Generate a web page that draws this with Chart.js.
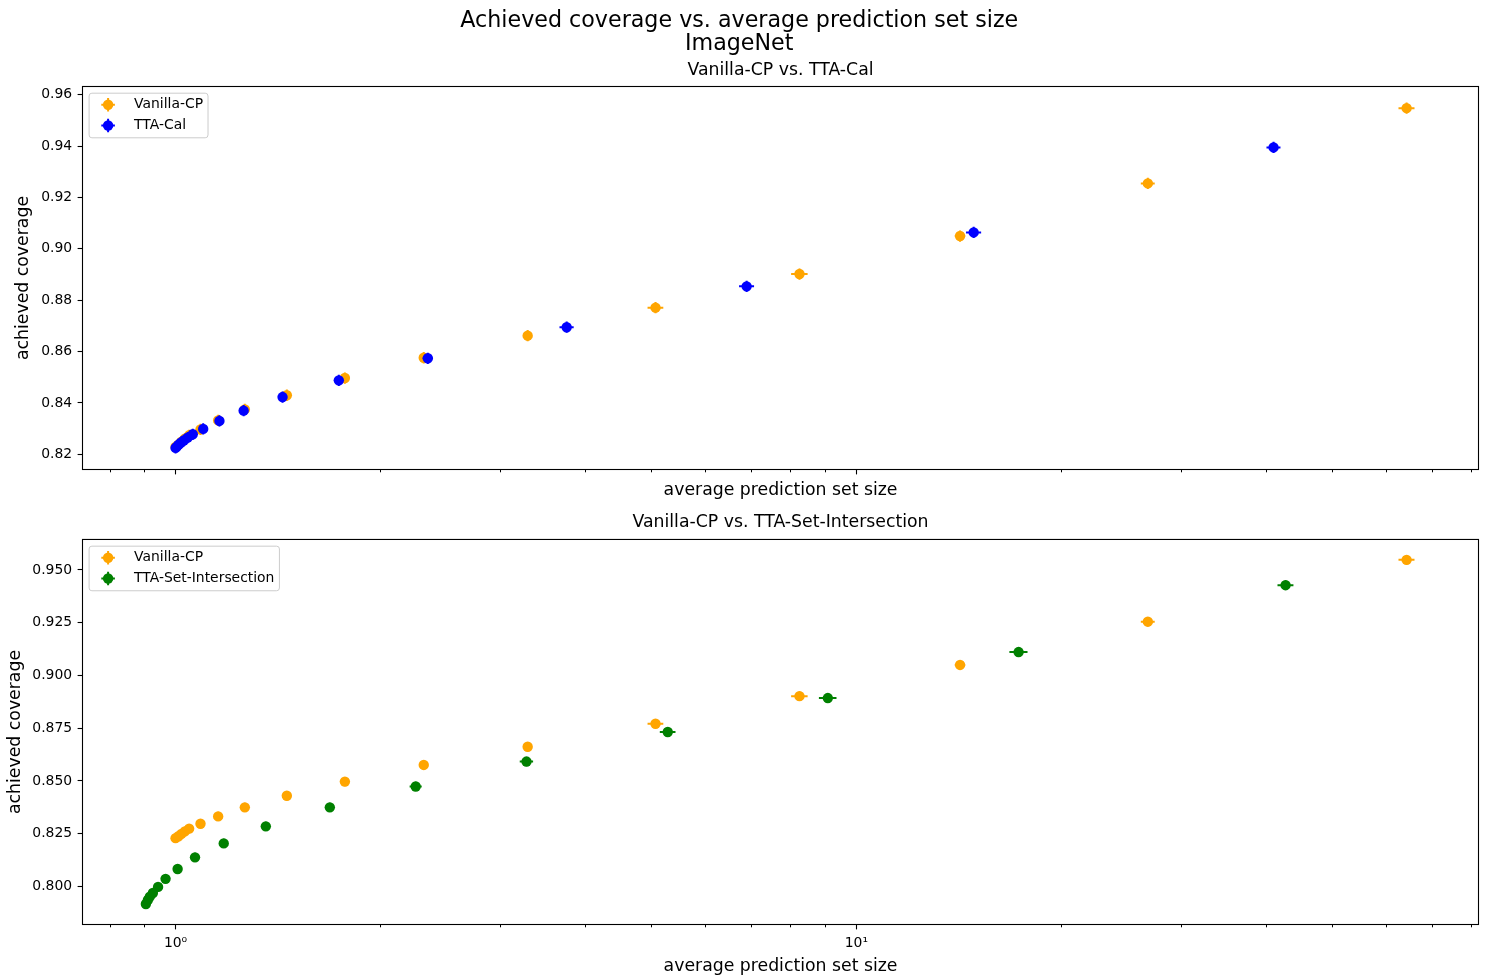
<!DOCTYPE html>
<html>
<head>
<meta charset="utf-8">
<title>Achieved coverage vs. average prediction set size</title>
<script src="https://cdn.jsdelivr.net/npm/chart.js@4.4.1/dist/chart.umd.min.js"></script>
<style>
  html, body { margin: 0; padding: 0; background: #fff; }
  #wrap { position: relative; width: 1489px; height: 978px; overflow: hidden; }
  canvas { position: absolute; left: 0; }
  #topChart { top: 0; }
  #bottomChart { top: 505px; }
</style>
</head>
<body>
<div id="wrap">
  <canvas id="topChart" width="1489" height="505"></canvas>
  <canvas id="bottomChart" width="1489" height="473"></canvas>
</div>
<script>
// ---- data: average prediction set size (x) and achieved coverage (y) ----
const vanillaSize    = [1.000, 1.010, 1.020, 1.032, 1.047, 1.088, 1.155, 1.264, 1.457, 1.773, 2.315, 3.29, 5.07, 8.25, 14.2, 26.8, 64.3];
const vanillaCov     = [0.8229, 0.8238, 0.8249, 0.8261, 0.8274, 0.8297, 0.8332, 0.8375, 0.8430, 0.8497, 0.8576, 0.8662, 0.8771, 0.8902, 0.9050, 0.9255, 0.9548];
const vanillaSizeErr = [0.004, 0.004, 0.004, 0.004, 0.004, 0.005, 0.006, 0.008, 0.010, 0.014, 0.020, 0.050, 0.135, 0.23, 0.25, 0.63, 1.74];
const vanillaCovErr  = [0.0022, 0.0022, 0.0022, 0.0022, 0.0022, 0.0022, 0.0022, 0.0022, 0.0022, 0.0022, 0.0022, 0.0022, 0.0022, 0.0022, 0.0022, 0.0022, 0.0022];

const calSize    = [1.000, 1.004, 1.010, 1.018, 1.028, 1.042, 1.060, 1.098, 1.160, 1.259, 1.436, 1.737, 2.347, 3.754, 6.90, 14.87, 41.0];
const calCov     = [0.8225, 0.8230, 0.8237, 0.8245, 0.8254, 0.8265, 0.8278, 0.8299, 0.8330, 0.8370, 0.8423, 0.8488, 0.8574, 0.8695, 0.8854, 0.9064, 0.9395];
const calSizeErr = [0.004, 0.004, 0.004, 0.004, 0.004, 0.004, 0.004, 0.005, 0.006, 0.008, 0.010, 0.014, 0.040, 0.090, 0.175, 0.38, 0.97];
const calCovErr  = [0.0022, 0.0022, 0.0022, 0.0022, 0.0022, 0.0022, 0.0022, 0.0022, 0.0022, 0.0022, 0.0022, 0.0022, 0.0022, 0.0022, 0.0022, 0.0022, 0.0022];

const interSize    = [0.9045, 0.9107, 0.9168, 0.9262, 0.9426, 0.9668, 1.007, 1.068, 1.177, 1.357, 1.685, 2.253, 3.277, 5.284, 9.08, 17.31, 42.7];
const interCov     = [0.7917, 0.7936, 0.7952, 0.7969, 0.7998, 0.8036, 0.8083, 0.8138, 0.8204, 0.8285, 0.8375, 0.8474, 0.8592, 0.8732, 0.8893, 0.9111, 0.9428];
const interSizeErr = [0.004, 0.004, 0.004, 0.004, 0.004, 0.004, 0.004, 0.005, 0.006, 0.010, 0.015, 0.046, 0.074, 0.14, 0.27, 0.53, 1.15];
const interCovErr  = [0.0022, 0.0022, 0.0022, 0.0022, 0.0022, 0.0022, 0.0022, 0.0022, 0.0022, 0.0022, 0.0022, 0.0022, 0.0022, 0.0022, 0.0022, 0.0022, 0.0022];

// ---- axis ticks ----
const xMajorTicks  = [1, 10];
const xMajorLabels = ['10\u2070', '10\u00b9'];
const xMinorTicks  = [0.8, 0.9, 2, 3, 4, 5, 6, 7, 8, 9, 20, 30, 40, 50, 60, 70, 80];
const topYTicks    = [0.82, 0.84, 0.86, 0.88, 0.90, 0.92, 0.94, 0.96];
const bottomYTicks = [0.800, 0.825, 0.850, 0.875, 0.900, 0.925, 0.950];

const FONT = 'DejaVu Sans';
const ORANGE = '#ffa500', BLUE = '#0000ff', GREEN = '#008000';
const X_RANGE = [0.730, 82.0];

Chart.defaults.font.family = FONT;
Chart.defaults.color = '#000';

function toPoints(xs, ys) { return xs.map((x, i) => ({ x: x, y: ys[i] })); }

function series(label, color, xs, ys, xe, ye, order) {
  return {
    label: label,
    data: toPoints(xs, ys),
    xErr: xe,
    yErr: ye,
    backgroundColor: color,
    borderColor: color,
    borderWidth: 0,
    pointRadius: 5.2,
    pointHoverRadius: 5.2,
    order: order
  };
}

// horizontal and vertical error bars, painted just before each series' markers
const errorBars = {
  id: 'errorBars',
  beforeDatasetDraw(chart, args) {
    const ds = chart.data.datasets[args.index];
    if (!ds.xErr) return;
    const sx = chart.scales.x, sy = chart.scales.y, ctx = chart.ctx;
    ctx.save();
    ctx.strokeStyle = ds.backgroundColor;
    ctx.lineWidth = 2;
    ctx.beginPath();
    ds.data.forEach((p, i) => {
      const px = sx.getPixelForValue(p.x), py = sy.getPixelForValue(p.y);
      ctx.moveTo(sx.getPixelForValue(p.x - ds.xErr[i]), py);
      ctx.lineTo(sx.getPixelForValue(p.x + ds.xErr[i]), py);
      ctx.moveTo(px, sy.getPixelForValue(p.y - ds.yErr[i]));
      ctx.lineTo(px, sy.getPixelForValue(p.y + ds.yErr[i]));
    });
    ctx.stroke();
    ctx.restore();
  }
};

// box around the plotting area plus the short minor ticks of the log axis
const axesFrame = {
  id: 'axesFrame',
  afterDraw(chart) {
    const { ctx, chartArea: a } = chart;
    const sx = chart.scales.x;
    ctx.save();
    ctx.strokeStyle = '#000';
    ctx.lineWidth = 1;
    ctx.beginPath();
    xMinorTicks.forEach(v => {
      const px = Math.round(sx.getPixelForValue(v)) + 0.5;
      ctx.moveTo(px, a.bottom);
      ctx.lineTo(px, a.bottom + 2.8);
    });
    ctx.stroke();
    ctx.lineWidth = 1.1;
    ctx.strokeRect(a.left, a.top, a.right - a.left, a.bottom - a.top);
    ctx.restore();
  }
};

// framed legend in the upper-left corner of the plotting area
const boxLegend = {
  id: 'boxLegend',
  afterDraw(chart) {
    const { ctx, chartArea: a } = chart;
    const items = chart.data.datasets;
    ctx.save();
    ctx.font = '13.9px "' + FONT + '"';
    const tw = Math.max.apply(null, items.map(d => ctx.measureText(d.label).width));
    const x0 = a.left + 6.6, y0 = a.top + 6.7;
    const w = 45 + tw + 5, h = 44.6;
    ctx.beginPath();
    ctx.roundRect(x0, y0, w, h, 2.8);
    ctx.fillStyle = 'rgba(255,255,255,0.8)';
    ctx.fill();
    ctx.strokeStyle = '#cccccc';
    ctx.lineWidth = 1;
    ctx.stroke();
    items.forEach((d, i) => {
      const cx = x0 + 19, cy = y0 + 11.6 + i * 20.7;
      ctx.strokeStyle = d.backgroundColor;
      ctx.lineWidth = 2;
      ctx.beginPath();
      ctx.moveTo(cx - 6.8, cy); ctx.lineTo(cx + 6.8, cy);
      ctx.moveTo(cx, cy - 6.8); ctx.lineTo(cx, cy + 6.8);
      ctx.stroke();
      ctx.fillStyle = d.backgroundColor;
      ctx.beginPath();
      ctx.arc(cx, cy, 5.2, 0, Math.PI * 2);
      ctx.fill();
      ctx.fillStyle = '#000';
      ctx.textBaseline = 'middle';
      ctx.textAlign = 'left';
      ctx.fillText(d.label, x0 + 45, cy);
    });
    ctx.restore();
  }
};

function makeOptions(cfg) {
  return {
    responsive: false,
    animation: false,
    events: [],
    layout: { padding: { left: 0, right: 10.5, top: 0, bottom: 0 } },
    plugins: {
      legend: { display: false },
      tooltip: { enabled: false },
      title: cfg.title,
      subtitle: cfg.subtitle
    },
    scales: {
      x: {
        type: 'logarithmic',
        bounds: 'data',
        min: X_RANGE[0],
        max: X_RANGE[1],
        afterBuildTicks(s) {
          s.ticks = xMajorTicks.concat(xMinorTicks).sort((p, q) => p - q)
            .map(v => ({ value: v, major: xMajorTicks.includes(v) }));
        },
        afterFit(s) { s.height = cfg.xHeight; },
        border: { display: false },
        grid: {
          display: true,
          drawOnChartArea: false,
          drawTicks: true,
          tickLength: 4.9,
          tickWidth: 1.1,
          tickColor: c => (c.tick && xMajorTicks.includes(c.tick.value)) ? '#000' : 'rgba(0,0,0,0)'
        },
        ticks: {
          display: cfg.showXLabels,
          autoSkip: false,
          maxRotation: 0,
          padding: 6,
          color: '#000',
          font: { size: 13.9, family: FONT },
          callback: v => {
            const k = xMajorTicks.indexOf(v);
            return k >= 0 ? xMajorLabels[k] : '';
          }
        },
        title: {
          display: true,
          text: 'average prediction set size',
          color: '#000',
          font: { size: 17.3, family: FONT },
          padding: { top: 0, bottom: cfg.xTitlePad }
        }
      },
      y: {
        type: 'linear',
        bounds: 'data',
        min: cfg.yRange[0],
        max: cfg.yRange[1],
        afterBuildTicks(s) { s.ticks = cfg.yTicks.map(v => ({ value: v })); },
        afterFit(s) { s.width = 82.5; },
        border: { display: false },
        grid: {
          display: true,
          drawOnChartArea: false,
          drawTicks: true,
          tickLength: 4.9,
          tickWidth: 1.1,
          tickColor: '#000'
        },
        ticks: {
          padding: 5.5,
          color: '#000',
          font: { size: 13.9, family: FONT },
          callback: v => v.toFixed(cfg.yDigits)
        },
        title: {
          display: true,
          text: 'achieved coverage',
          color: '#000',
          font: { size: 17.3, family: FONT },
          padding: { top: cfg.yTitlePad, bottom: 0 }
        }
      }
    }
  };
}

// upper panel: Vanilla-CP vs. TTA-Cal
new Chart(document.getElementById('topChart'), {
  type: 'scatter',
  data: {
    datasets: [
      series('Vanilla-CP', ORANGE, vanillaSize, vanillaCov, vanillaSizeErr, vanillaCovErr, 1),
      series('TTA-Cal', BLUE, calSize, calCov, calSizeErr, calCovErr, 0)
    ]
  },
  options: makeOptions({
    title: {
      display: true,
      text: ['Achieved coverage vs. average prediction set size', 'ImageNet'],
      fullSize: true,
      color: '#000',
      font: { size: 22.2, family: FONT, weight: 'normal', lineHeight: 1.036 },
      padding: { top: 9.3, bottom: 0 }
    },
    subtitle: {
      display: true,
      text: 'Vanilla-CP vs. TTA-Cal',
      fullSize: false,
      color: '#000',
      font: { size: 17.3, family: FONT, weight: 'normal', lineHeight: 1.2 },
      padding: { top: 4.8, bottom: 5.64 }
    },
    xHeight: 35.5,
    showXLabels: false,
    xTitlePad: 4.0,
    yTitlePad: 13.0,
    yRange: [0.81409, 0.96323],
    yTicks: topYTicks,
    yDigits: 2
  }),
  plugins: [errorBars, axesFrame, boxLegend]
});

// lower panel: Vanilla-CP vs. TTA-Set-Intersection
new Chart(document.getElementById('bottomChart'), {
  type: 'scatter',
  data: {
    datasets: [
      series('Vanilla-CP', ORANGE, vanillaSize, vanillaCov, vanillaSizeErr, vanillaCovErr, 1),
      series('TTA-Set-Intersection', GREEN, interSize, interCov, interSizeErr, interCovErr, 0)
    ]
  },
  options: makeOptions({
    title: {
      display: true,
      text: 'Vanilla-CP vs. TTA-Set-Intersection',
      fullSize: false,
      color: '#000',
      font: { size: 17.3, family: FONT, weight: 'normal', lineHeight: 1.2 },
      padding: { top: 7.4, bottom: 6.3 }
    },
    subtitle: { display: false },
    xHeight: 53.5,
    showXLabels: true,
    xTitlePad: 1.0,
    yTitlePad: 5.5,
    yRange: [0.78197, 0.96447],
    yTicks: bottomYTicks,
    yDigits: 3
  }),
  plugins: [errorBars, axesFrame, boxLegend]
});
</script>
</body>
</html>
